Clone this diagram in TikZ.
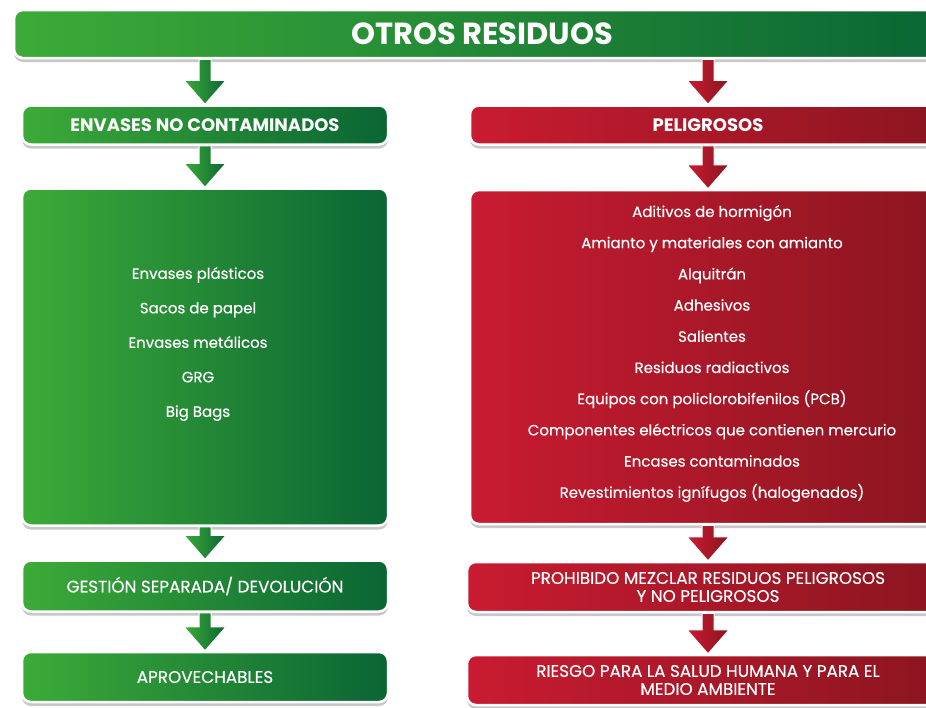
\documentclass[tikz,border=0pt]{standalone}
\usepackage{fontspec}
\setmainfont{Poppins}
\usetikzlibrary{shadows,calc}
\definecolor{gL}{HTML}{3CAB38}
\definecolor{gD}{HTML}{0A6534}
\definecolor{rL}{HTML}{C91B31}
\definecolor{rD}{HTML}{8A1520}
\tikzset{
  box/.style={rounded corners=9pt, draw=white, line width=2.5pt,
    drop shadow={shadow xshift=0pt, shadow yshift=-4pt, opacity=0.3, fill=black!70},
    text=white, align=center, inner sep=0pt},
  gbox/.style={box, left color=gL, right color=gD},
  rbox/.style={box, left color=rL, right color=rD},
  garrow/.style={left color=gL, right color=gD, draw=white, line width=1pt},
  rarrow/.style={left color=rL, right color=rD, draw=white, line width=1pt},
  headfont/.style={font=\fontsize{18}{21}\selectfont\bfseries},
  lowfont/.style={font=\fontsize{16.8}{18}\selectfont\addfontfeature{FakeBold=0.4}},
  listtext/.style={text=white, align=center, inner sep=0pt},
}
\newcommand\flowarrow[3]{%
  \path[#1] let \p1=(#2), \p2=(#3) in
    (\x1-6pt,\y1) -- (\x1+6pt,\y1) -- (\x1+6pt,\y2+24pt) -- (\x1+21pt,\y2+24pt)
    -- (\x2,\y2) -- (\x1-21pt,\y2+24pt) -- (\x1-6pt,\y2+24pt) -- cycle;}
\begin{document}
\begin{tikzpicture}[x=1pt,y=-1pt]
\useasboundingbox[fill=white] (0,0) rectangle (926,707);
% boxes
\node[gbox, minimum width=936pt, minimum height=48pt, font=\fontsize{30.5}{34}\selectfont\bfseries] (top) at (482,34) {OTROS RESIDUOS};
\node[gbox, headfont, minimum width=366pt, minimum height=39pt] (env) at (205,125) {ENVASES NO CONTAMINADOS};
\node[rbox, headfont, minimum width=476pt, minimum height=39pt] (pel) at (708,125) {PELIGROSOS};
\node[gbox, minimum width=366pt, minimum height=337pt] (lbig) at (205,357) {};
\node[rbox, minimum width=476pt, minimum height=334pt] (rbig) at (708,357) {};
\node[gbox, lowfont, minimum width=366pt, minimum height=51pt] (ges) at (205,586) {GESTIÓN SEPARADA/ DEVOLUCIÓN};
\node[rbox, lowfont, minimum width=482pt, minimum height=50pt] (pro) at (708,587) {PROHIBIDO MEZCLAR RESIDUOS PELIGROSOS\\Y NO PELIGROSOS};
\node[gbox, lowfont, minimum width=366pt, minimum height=50pt] (apr) at (205,677) {APROVECHABLES};
\node[rbox, lowfont, minimum width=482pt, minimum height=50pt] (rie) at (708,680) {RIESGO PARA LA SALUD HUMANA Y PARA EL\\MEDIO AMBIENTE};
% list texts
\node[listtext, font=\fontsize{15}{34.5}\selectfont\addfontfeature{FakeBold=0.4}] (llist) at (198,344) {Envases plásticos\\Sacos de papel\\Envases metálicos\\GRG\\Big Bags};
\node[listtext, font=\fontsize{15}{31.2}\selectfont\addfontfeature{FakeBold=0.4}] (rlist) at (712,353.5) {Aditivos de hormigón\\Amianto y materiales con amianto\\Alquitrán\\Adhesivos\\Salientes\\Residuos radiactivos\\Equipos con policlorobifenilos (PCB)\\Componentes eléctricos que contienen mercurio\\Encases contaminados\\Revestimientos ignífugos (halogenados)};
% arrows
\flowarrow{garrow}{top.south -| env.north}{env.north}
\flowarrow{rarrow}{top.south -| pel.north}{pel.north}
\flowarrow{garrow}{env.south}{lbig.north}
\flowarrow{rarrow}{pel.south}{rbig.north}
\flowarrow{garrow}{lbig.south}{ges.north}
\flowarrow{rarrow}{rbig.south}{pro.north}
\flowarrow{garrow}{ges.south}{apr.north}
\flowarrow{rarrow}{pro.south}{rie.north}
\end{tikzpicture}
\end{document}
